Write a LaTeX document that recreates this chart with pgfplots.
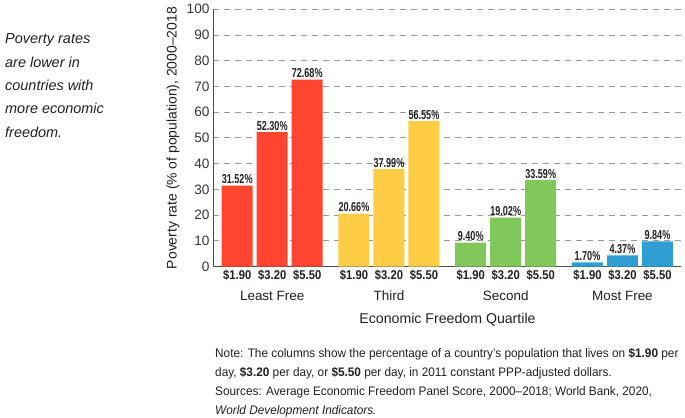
\documentclass[border=0pt]{standalone}
\usepackage{fontspec}
\setmainfont{Liberation Sans}
\newfontfamily\narrowfont[FakeStretch=0.7]{Liberation Sans}
\newfontfamily\condfont[FakeStretch=0.88]{Liberation Sans}
\newfontfamily\notefont[FakeStretch=0.955]{Liberation Sans}
\usepackage{pgfplots}
\pgfplotsset{compat=1.18}
\definecolor{txt}{HTML}{231F20}
\definecolor{cred}{HTML}{FF4530}
\definecolor{cyel}{HTML}{FFCD45}
\definecolor{cgrn}{HTML}{80C85A}
\definecolor{cblu}{HTML}{2F9FD3}
\begin{document}
\begin{tikzpicture}[x=1bp,y=1bp]
\useasboundingbox (0,0) rectangle (685,417);
\begin{axis}[
  at={(213bp,150.3bp)}, anchor=south west,
  scale only axis, width=468bp, height=257.4bp,
  xmin=213, xmax=681, ymin=0, ymax=100,
  axis x line=bottom, axis y line=left,
  axis line style={-, draw=black!70, line width=1bp},
  ytick={0,10,...,100},
  major tick length=0pt,
  ymajorgrids,
  grid style={draw=black!40, line width=1bp, dash pattern=on 6bp off 5bp},
  /pgf/number format/assume math mode=true,
  yticklabel style={font=\fontsize{13.7}{13.7}\selectfont, text=txt!90},
  xtick={237.2,272.2,307.2,353.95,388.95,423.95,470.7,505.7,540.7,587.45,622.45,657.45},
  xticklabels={\$1.90,\$3.20,\$5.50,\$1.90,\$3.20,\$5.50,\$1.90,\$3.20,\$5.50,\$1.90,\$3.20,\$5.50},
  xticklabel style={font=\condfont\bfseries\fontsize{12.8}{12.8}\selectfont, text=txt},
  ylabel={Poverty rate (\% of population), 2000–2018},
  ylabel style={at={(axis description cs:-0.064,0.5)}, anchor=south, font=\fontsize{14}{14}\selectfont, text=txt},
  ybar, bar width=31, bar shift=0pt,
  nodes near coords={\pgfmathprintnumber[fixed,fixed zerofill,precision=2]{\pgfplotspointmeta}\%},
  every node near coord/.append style={font=\narrowfont\bfseries\fontsize{13}{13}\selectfont, text=txt, inner sep=1.5bp},
  clip=false,
]
\addplot[fill=cred, draw=none] coordinates {(237.2,31.52) (272.2,52.30) (307.2,72.68)};
\addplot[fill=cyel, draw=none] coordinates {(353.95,20.66) (388.95,37.99) (423.95,56.55)};
\addplot[fill=cgrn, draw=none] coordinates {(470.7,9.40) (505.7,19.02) (540.7,33.59)};
\addplot[fill=cblu, draw=none] coordinates {(587.45,1.70) (622.45,4.37) (657.45,9.84)};
\end{axis}
\begin{scope}[every node/.style={anchor=base, text=txt, font=\fontsize{13.5}{13.5}\selectfont, inner sep=0pt}]
\node at (272.2,117) {Least Free};
\node at (388.95,117) {Third};
\node at (505.7,117) {Second};
\node at (622.45,117) {Most Free};
\node[font=\fontsize{14.2}{14.2}\selectfont] at (447.5,94) {Economic Freedom Quartile};
\end{scope}
\begin{scope}[every node/.style={anchor=base west, text=txt, font=\itshape\fontsize{14.5}{14.5}\selectfont, inner sep=0pt}]
\node at (5,373.3) {Poverty rates};
\node at (5,350) {are lower in};
\node at (5,326.7) {countries with};
\node at (5,303.4) {more economic};
\node at (5,280) {freedom.};
\end{scope}
\begin{scope}[every node/.style={anchor=base west, text=txt, font=\notefont\fontsize{12.4}{12.4}\selectfont, inner sep=0pt}]
\node at (215,59.7) {Note: The columns show the percentage of a country’s population that lives on \textbf{\$1.90} per};
\node at (215,40.6) {day, \textbf{\$3.20} per day, or \textbf{\$5.50} per day, in 2011 constant PPP-adjusted dollars.};
\node at (215,21.5) {Sources: Average Economic Freedom Panel Score, 2000–2018; World Bank, 2020,};
\node at (215,2.4) {\itshape World Development Indicators.};
\end{scope}
\end{tikzpicture}
\end{document}
